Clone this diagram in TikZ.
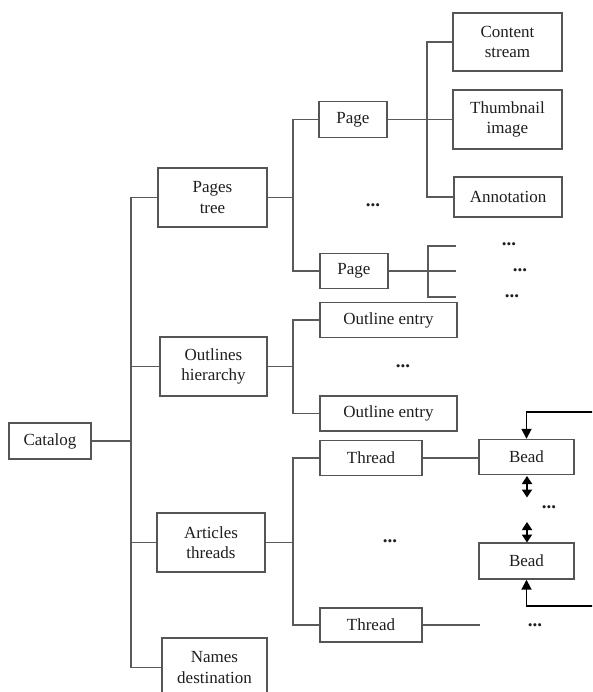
\documentclass[tikz,border=0pt]{standalone}
\usepackage{fontspec}
\setmainfont{Liberation Serif}
\usetikzlibrary{arrows.meta}
\definecolor{boxc}{HTML}{555555}
\definecolor{linec}{HTML}{5A5A5A}
\definecolor{txtc}{HTML}{1E1E1E}
\tikzset{
  box/.style={draw=boxc, line width=1.4pt, rectangle, align=center, inner sep=0pt,
    text=txtc, font=\fontsize{17}{20.5}\selectfont},
  conn/.style={draw=linec, line width=1.3pt},
  loopar/.style={draw=black, line width=1.8pt, -{Triangle[length=10pt,width=10pt]}},
  dblar/.style={draw=black, line width=1.8pt, {Triangle[length=8pt,width=10pt]}-{Triangle[length=8pt,width=10pt]}},
  dots/.style={text=txtc, font=\fontsize{19}{20}\selectfont\bfseries, inner sep=0pt}
}
\begin{document}
\begin{tikzpicture}[x=1pt,y=-1pt]
\useasboundingbox (0,0) rectangle (592,692);
\clip (0,0) rectangle (592,692);
% nodes
\node[box, minimum width=82pt, minimum height=36pt] (cat) at (50,441) {Catalog};
\node[box, minimum width=109pt, minimum height=59pt] (pt) at (212.5,197.5) {Pages\\tree};
\node[box, minimum width=107pt, minimum height=59pt] (oh) at (213.5,366.5) {Outlines\\hierarchy};
\node[box, minimum width=108pt, minimum height=59pt] (at) at (211,542.5) {Articles\\threads};
\node[box, minimum width=105pt, minimum height=59pt] (nd) at (214.5,667.5) {Names\\destination};
\node[box, minimum width=68pt, minimum height=36pt] (p1) at (353,119.5) {Page};
\node[box, minimum width=68pt, minimum height=35pt] (p2) at (354,271) {Page};
\node[box, minimum width=109pt, minimum height=58pt] (cs) at (507.5,42) {Content\\stream};
\node[box, minimum width=109pt, minimum height=59pt] (ti) at (507.5,119.5) {Thumbnail\\image};
\node[box, minimum width=108pt, minimum height=40pt] (an) at (508,197) {Annotation};
\node[box, minimum width=137pt, minimum height=35pt] (oe1) at (388.5,320) {Outline entry};
\node[box, minimum width=137pt, minimum height=35pt] (oe2) at (388.5,413.5) {Outline entry};
\node[box, minimum width=102pt, minimum height=35pt] (t1) at (371,458) {Thread};
\node[box, minimum width=102pt, minimum height=34pt] (t2) at (371,625) {Thread};
\node[box, minimum width=95pt, minimum height=35pt] (b1) at (526.5,457) {Bead};
\node[box, minimum width=95pt, minimum height=36pt] (b2) at (526.5,561) {Bead};
% bus coordinates
\coordinate (bus0) at (131,0);
\coordinate (bus1) at (293,0);
\coordinate (bus2) at (427,0);
\coordinate (bus3) at (428,0);
% catalog trunk
\draw[conn] (pt.west) -- (pt.west -| bus0) -- (nd.west -| bus0) -- (nd.west);
\draw[conn] (cat.east) -- (cat.east -| bus0);
\draw[conn] (oh.west) -- (oh.west -| bus0);
\draw[conn] (at.west) -- (at.west -| bus0);
% pages tree
\draw[conn] (p1.west) -- (p1.west -| bus1) -- (p2.west -| bus1) -- (p2.west);
\draw[conn] (pt.east) -- (pt.east -| bus1);
% page 1
\draw[conn] (cs.west) -- (cs.west -| bus2) -- (an.west -| bus2) -- (an.west);
\draw[conn] (p1.east) -- (p1.east -| ti.west);
% page 2
\coordinate (e1) at (456,246);
\coordinate (e2) at (456,271);
\coordinate (e3) at (456,297);
\draw[conn] (e1) -- (e1 -| bus3) -- (e3 -| bus3) -- (e3);
\draw[conn] (p2.east) -- (e2);
% outlines
\draw[conn] (oe1.west) -- (oe1.west -| bus1) -- (oe2.west -| bus1) -- (oe2.west);
\draw[conn] (oh.east) -- (oh.east -| bus1);
% threads
\draw[conn] (t1.west) -- (t1.west -| bus1) -- (t2.west -| bus1) -- (t2.west);
\draw[conn] (at.east) -- (at.east -| bus1);
\draw[conn] (t1.east) -- (t1.east -| b1.west);
\coordinate (e4) at (480,625);
\draw[conn] (t2.east) -- (e4);
% bead arrows
\coordinate (a1s) at (527,476);
\coordinate (a1e) at (527,497.5);
\coordinate (a2s) at (527,522);
\coordinate (a2e) at (527,542.5);
\draw[dblar] (a1s) -- (a1e);
\draw[dblar] (a2s) -- (a2e);
\coordinate (l1) at (593,412);
\coordinate (l2) at (593,606);
\draw[loopar] (l1) -| (b1.north);
\draw[loopar] (l2) -| (b2.south);
% dots
\node[dots] (d1) at (373,205) {...};
\node[dots] (d2) at (509,244) {...};
\node[dots] (d3) at (520,270) {...};
\node[dots] (d4) at (512,296) {...};
\node[dots] (d5) at (403,366) {...};
\node[dots] (d6) at (390,541) {...};
\node[dots] (d7) at (549,507) {...};
\node[dots] (d8) at (535,625) {...};
\end{tikzpicture}
\end{document}
